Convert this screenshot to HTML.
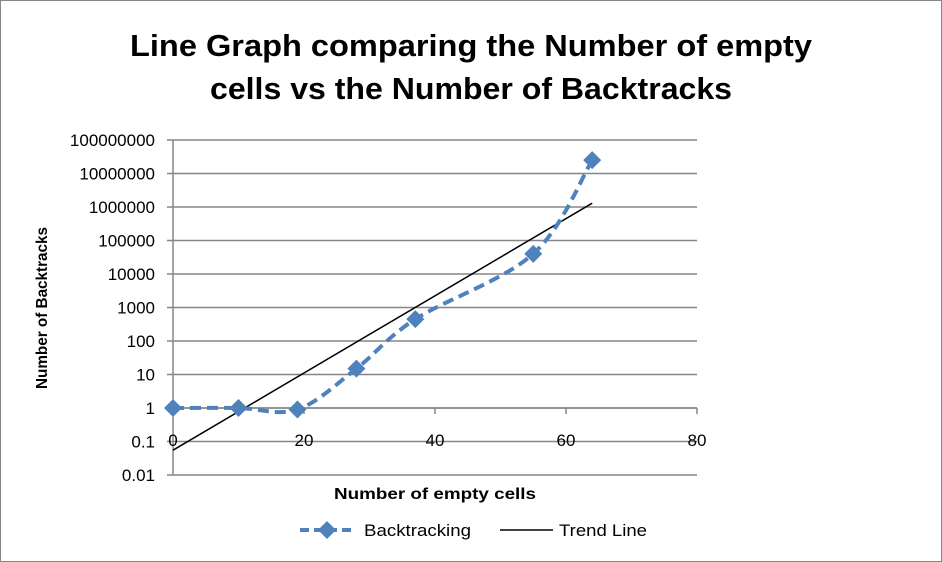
<!DOCTYPE html>
<html><head><meta charset="utf-8"><style>
body{margin:0;background:#fff}
svg{display:block;font-family:"Liberation Sans",sans-serif}
</style></head><body>
<svg width="942" height="562">
<rect x="0.5" y="0.5" width="941" height="561" fill="#fff" stroke="#868686"/>
<text x="471" y="56" text-anchor="middle" font-size="31" font-weight="bold" textLength="682" lengthAdjust="spacingAndGlyphs">Line Graph comparing the Number of empty</text>
<text x="471" y="99" text-anchor="middle" font-size="31" font-weight="bold" textLength="522" lengthAdjust="spacingAndGlyphs">cells vs the Number of Backtracks</text>
<g id="grid"></g>
<g id="axes"></g>
<g id="series"></g>
<text transform="translate(47,308) rotate(-90)" text-anchor="middle" font-size="16" font-weight="bold" textLength="162" lengthAdjust="spacingAndGlyphs">Number of Backtracks</text>
<text x="435" y="499" text-anchor="middle" font-size="16" font-weight="bold" textLength="202" lengthAdjust="spacingAndGlyphs">Number of  empty cells</text>
<g>
<g>
<line x1="300" y1="530" x2="355" y2="530" stroke="#4f81bd" stroke-width="4" stroke-dasharray="9,5"/>
<path d="M327 521 L336 530 L327 539 L318 530Z" fill="#4f81bd"/>
<text x="364" y="536" font-size="17" textLength="107" lengthAdjust="spacingAndGlyphs">Backtracking</text></g>
<g>
<line x1="500" y1="530" x2="553" y2="530" stroke="#000" stroke-width="1.5"/>
<text x="559" y="536" font-size="17" textLength="88" lengthAdjust="spacingAndGlyphs">Trend Line</text></g>
</g>
</svg>
<script>
const xVals=[0,10,19,28,37,55,64];
const yVals=[1,1,0.9,15,450,40000,25000000];
const trendX=[0,64];
const trendY=[0.055,1300000];
const yTicks=[0.01,0.1,1,10,100,1000,10000,100000,1000000,10000000,100000000];
const xTicks=[0,20,40,60,80];
const NS="http://www.w3.org/2000/svg";
const X0=173,X1=697,Ytop=140,Ybot=475;
const xs=v=>X0+(v/80)*(X1-X0);
const ys=v=>Ybot-(Math.log10(v)+2)/10*(Ybot-Ytop);
function mk(tag,attrs,parent){const e=document.createElementNS(NS,tag);for(const k in attrs)e.setAttribute(k,attrs[k]);parent.appendChild(e);return e;}
const grid=document.getElementById('grid'),axes=document.getElementById('axes'),series=document.getElementById('series');
yTicks.forEach(t=>{const y=ys(t);
 const g=mk('line',{x1:X0-6,x2:X1,y1:y,y2:y,stroke:'#868686','stroke-width':1.5},grid);
 
 
 const l=mk('text',{x:X0-18,y:y+6,'text-anchor':'end','font-size':17},axes);l.textContent=String(t);
 
 
});
mk('line',{x1:X0,x2:X0,y1:Ytop,y2:Ybot,stroke:'#868686','stroke-width':1.5},axes);
const y1=ys(1);
mk('line',{x1:X0,x2:X1,y1:y1,y2:y1,stroke:'#868686','stroke-width':1.5},axes);
xTicks.forEach(t=>{const x=xs(t);
 mk('line',{x1:x,x2:x,y1:y1,y2:y1+6,stroke:'#868686','stroke-width':1.5},axes);
 const l=mk('text',{x:x,y:y1+38,'text-anchor':'middle','font-size':17},axes);l.textContent=String(t);
 
 
});
const tl=mk('line',{x1:xs(trendX[0]),y1:ys(trendY[0]),x2:xs(trendX[1]),y2:ys(trendY[1]),stroke:'#000','stroke-width':1.5},series);


const P=xVals.map((v,i)=>[xs(v),ys(yVals[i])]);
let d='M'+P[0][0]+' '+P[0][1];
for(let i=0;i<P.length-1;i++){const p0=P[Math.max(0,i-1)],p1=P[i],p2=P[i+1],p3=P[Math.min(P.length-1,i+2)];const k=1/6;
 d+=` C${p1[0]+(p2[0]-p0[0])*k} ${p1[1]+(p2[1]-p0[1])*k} ${p2[0]-(p3[0]-p1[0])*k} ${p2[1]-(p3[1]-p1[1])*k} ${p2[0]} ${p2[1]}`;}
const ln=mk('path',{d:d,fill:'none',stroke:'#4f81bd','stroke-width':4,'stroke-dasharray':'11,6'},series);


P.forEach(p=>{const m=mk('path',{d:`M${p[0]} ${p[1]-9} L${p[0]+9} ${p[1]} L${p[0]} ${p[1]+9} L${p[0]-9} ${p[1]}Z`,fill:'#4f81bd'},series);
 
 
});
</script>
</body></html>
